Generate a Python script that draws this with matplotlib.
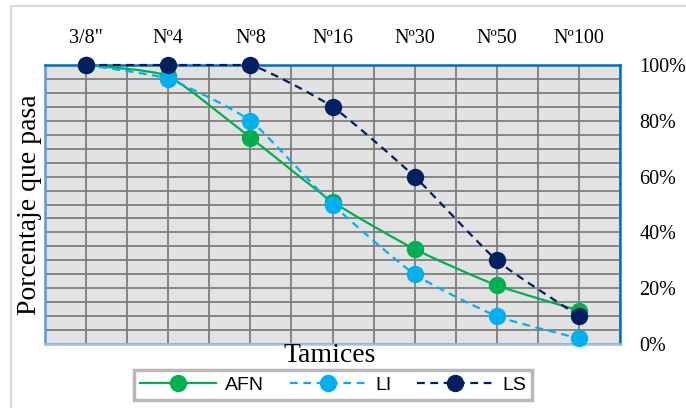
import numpy as np
import matplotlib.pyplot as plt
from matplotlib.path import Path
from matplotlib.patches import PathPatch, Rectangle
from matplotlib.lines import Line2D
from matplotlib.ticker import PercentFormatter

tamices = ['3/8"', 'Nº4', 'Nº8', 'Nº16', 'Nº30', 'Nº50', 'Nº100']
afn = [100, 96, 74, 51, 34, 21, 12]
li = [100, 95, 80, 50, 25, 10, 2]
ls = [100, 100, 100, 85, 60, 30, 10]

colors = {'AFN': '#00B050', 'LI': '#00B0F0', 'LS': '#002060'}
styles = {'AFN': '-', 'LI': (0, (3.5, 2.5)), 'LS': (0, (3.5, 2.5))}


def smooth_path(x, y, t=0.09):
    # lightly smoothed line (catmull-rom as cubic bezier)
    p = np.column_stack([x, y]).astype(float)
    n = len(p)
    verts = [p[0]]
    codes = [Path.MOVETO]
    for i in range(n - 1):
        p0 = p[i - 1] if i > 0 else p[i]
        p3 = p[i + 2] if i + 2 < n else p[i + 1]
        c1 = p[i] + (p[i + 1] - p0) * t
        c2 = p[i + 1] - (p3 - p[i]) * t
        c1[1] = min(c1[1], 1.0)
        c2[1] = min(c2[1], 1.0)
        verts += [c1, c2, p[i + 1]]
        codes += [Path.CURVE4] * 3
    return Path(verts, codes)


plt.rcParams['font.family'] = 'Liberation Serif'
fig = plt.figure(figsize=(6.86, 4.08), dpi=100)
fig.patches.append(Rectangle((11 / 686, -0.01), 1, 1 - 6 / 408 + 0.01, transform=fig.transFigure,
                             fill=False, edgecolor='#D9D9D9', linewidth=1.5))
ax = fig.add_axes([45 / 686, 1 - 344 / 408, 575 / 686, 279 / 408])
ax.set_facecolor('#E2E2E2')

x = np.arange(len(tamices))
series = {'AFN': afn, 'LI': li, 'LS': ls}
for name, vals in series.items():
    y = np.array(vals) / 100
    patch = PathPatch(smooth_path(x, y), fill=False, edgecolor=colors[name],
                      linewidth=1.6, linestyle=styles[name], zorder=3, clip_on=False)
    ax.add_patch(patch)
    ax.plot(x, y, linestyle='none', marker='o', markersize=11.5, color=colors[name],
            zorder=4, clip_on=False)

ax.set_xlim(-0.5, 6.5)
ax.set_ylim(0, 1)
ax.set_xticks(x)
ax.set_xticklabels(tamices)
ax.set_xticks(np.arange(-0.5, 6.51, 0.5), minor=True)
ax.set_yticks(np.arange(0, 1.01, 0.2))
ax.set_yticks(np.arange(0, 1.01, 0.05), minor=True)
ax.yaxis.set_major_formatter(PercentFormatter(1.0, decimals=0))
ax.xaxis.tick_top()
ax.yaxis.tick_right()
ax.tick_params(axis='both', which='both', length=0, labelsize=14.5)
ax.tick_params(axis='x', pad=12)
ax.tick_params(axis='y', pad=14)
ax.grid(True, which='both', color='#7F7F7F', linewidth=1.3)
ax.set_axisbelow(True)

ax.spines['top'].set_color('#0070C0')
ax.spines['right'].set_color('#0070C0')
ax.spines['left'].set_color('#5B9BD5')
ax.spines['bottom'].set_color('#9DC3E6')
for s in ax.spines.values():
    s.set_linewidth(1.8)

fig.text(330 / 686, 1 - 355 / 408, 'Tamices', ha='center', va='center', fontsize=20)
fig.text(30 / 686, 1 - 205 / 408, 'Porcentaje que pasa', ha='center', va='center',
         rotation=90, fontsize=20)

handles = [Line2D([], [], color=colors[k], linestyle=styles[k], linewidth=1.6,
                  marker='o', markersize=11.5) for k in series]
leg = fig.legend(handles, list(series.keys()), loc='center', ncol=3,
                 bbox_to_anchor=(333 / 686, 1 - 385 / 408), frameon=True, fancybox=False,
                 prop={'family': 'Liberation Sans', 'size': 14}, handlelength=3.9,
                 columnspacing=1.3, handletextpad=0.5, borderpad=0.3)
leg.get_frame().set_edgecolor('#A6A6A6')
leg.get_frame().set_linewidth(2.5)

fig.savefig('out.png', dpi=100)
